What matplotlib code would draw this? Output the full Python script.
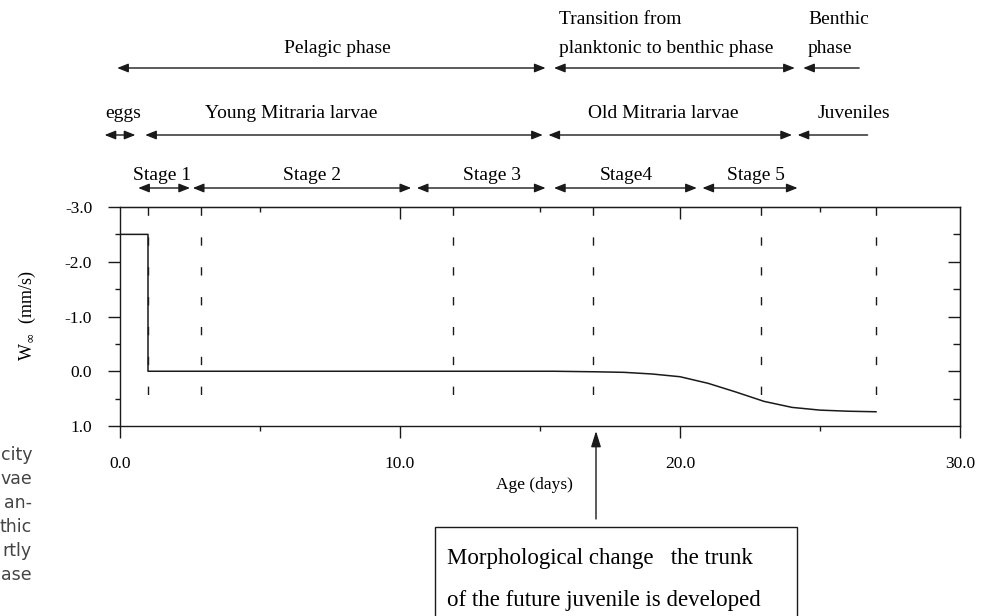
import numpy as np
import matplotlib
matplotlib.use("Agg")
import matplotlib.pyplot as plt
import matplotlib.transforms as mtransforms
from matplotlib.patches import Rectangle

# sinking velocity W_inf (mm/s) vs age (days)
age = [0, 1, 1, 15.5, 17, 18, 19, 20, 21, 22, 23, 24, 25, 26, 27]
w_inf = [-2.5, -2.5, 0, 0, 0.01, 0.02, 0.05, 0.1, 0.22, 0.38, 0.55, 0.66, 0.71, 0.73, 0.74]

# dashed stage limits (days)
stage_limits = [1.0, 2.9, 11.9, 16.9, 22.9, 27.0]

# arrow rows: (label, start day, end day, label position day)
phases = [("Pelagic phase", -0.1, 15.2, 7.75)]
transition = ("Transition from", "planktonic to benthic phase", 15.5, 24.1, 15.68)
benthic = ("Benthic", "phase", 24.4, 26.4, 24.57)
forms = [("eggs", -0.55, 0.55, 0.1), ("Young Mitraria larvae", 0.9, 15.1, 6.1),
         ("Old Mitraria larvae", 15.3, 24.0, 19.4)]
juveniles = ("Juveniles", 24.2, 26.7, 26.2)
stages = [("Stage 1", 0.65, 2.5, 1.5), ("Stage 2", 2.6, 10.4, 6.85), ("Stage 3", 10.6, 15.2, 13.3),
          ("Stage4", 15.5, 20.6, 18.1), ("Stage 5", 20.8, 24.2, 22.7)]

xticks = [0, 10, 20, 30]
xticklabels = ["0.0", "10.0", "20.0", "30.0"]
yticks = [-3, -2, -1, 0, 1]

plt.rcParams['font.family'] = ['Liberation Serif', 'DejaVu Serif']
plt.rcParams['lines.scale_dashes'] = False

W, H = 987, 616
fig = plt.figure(figsize=(W / 100, H / 100), dpi=100)
ax = fig.add_axes([120 / W, 1 - 426 / H, 840 / W, 219 / H])

def fy(py):
    # pixel row -> figure fraction
    return 1 - py / H

ink = '#1a1a1a'
ax.plot(age, w_inf, color=ink, lw=1.1)
for xl in stage_limits:
    ax.plot([xl, xl], [-3, 0.62], color=ink, lw=1.0, linestyle=(0, (6, 15.5)))

ax.set_xlim(0, 30)
ax.set_ylim(1, -3)
for s in ax.spines.values():
    s.set_color(ink)
    s.set_linewidth(1.0)

ax.set_xticks(xticks)
ax.set_xticklabels(xticklabels)
ax.set_xticks([5, 15, 25], minor=True)
ax.set_yticks(yticks)
ax.set_yticklabels(["%.1f" % v for v in yticks])
ax.set_yticks(np.arange(-2.5, 1, 1.0), minor=True)
ax.tick_params(axis='x', which='major', direction='out', length=8.5, width=1, color=ink,
               labelsize=12.5, pad=13, top=False)
ax.tick_params(axis='x', which='minor', direction='out', length=3.5, width=1, color=ink, top=False)
ax.tick_params(axis='y', which='major', direction='out', length=8.5, width=1, color=ink,
               labelsize=12.5, pad=11.5, right=False)
ax.tick_params(axis='y', which='minor', direction='out', length=3.5, width=1, color=ink, right=False)

top = ax.secondary_xaxis('top')
top.set_xticks([10, 20])
top.set_xticks([5, 15, 25], minor=True)
top.tick_params(which='major', direction='in', length=8.5, width=1, color=ink, labeltop=False)
top.tick_params(which='minor', direction='in', length=3.5, width=1, color=ink)
right = ax.secondary_yaxis('right')
right.set_yticks([-2, -1, 0])
right.set_yticks([-2.5, -1.5, -0.5, 0.5], minor=True)
right.tick_params(which='major', direction='in', length=9, width=1, color=ink, labelright=False)
right.tick_params(which='minor', direction='in', length=5, width=1, color=ink)

ax.set_xlabel("Age (days)", fontsize=12.5)
ax.xaxis.set_label_coords(0.493, -0.235)
ax.set_ylabel(r"W$_{\infty}$  (mm/s)", fontsize=13)
ax.yaxis.set_label_coords(-0.098, 0.505)

trans = mtransforms.blended_transform_factory(ax.transData, fig.transFigure)

def arrow(x0, x1, py, style='<|-|>'):
    ax.annotate('', xy=(x1, fy(py)), xytext=(x0, fy(py)), xycoords=trans, textcoords=trans,
                annotation_clip=False,
                arrowprops=dict(arrowstyle=style + ',head_length=0.55,head_width=0.22',
                                mutation_scale=12, shrinkA=0, shrinkB=0, color=ink, lw=1.0))

def label(x, py, s, ha='center'):
    ax.text(x, fy(py), s, transform=trans, ha=ha, va='baseline', fontsize=14)

# phase row
for name, a, b, c in phases:
    arrow(a, b, 68)
    label(c, 53, name)
l1, l2, a, b, c = transition
arrow(a, b, 68)
label(c, 24, l1, ha='left')
label(c, 53, l2, ha='left')
l1, l2, a, b, c = benthic
arrow(a, b, 68, style='<|-')
label(c, 24, l1, ha='left')
label(c, 53, l2, ha='left')

# life form row
for name, a, b, c in forms:
    arrow(a, b, 135)
    label(c, 118, name)
name, a, b, c = juveniles
arrow(a, b, 135, style='<|-')
label(c, 118, name)

# stage row
for name, a, b, c in stages:
    arrow(a, b, 188)
    label(c, 180, name)

# note box with arrow to the axis
ax.annotate('', xy=(17.0, fy(431)), xytext=(17.0, fy(519)), xycoords=trans, textcoords=trans,
            annotation_clip=False,
            arrowprops=dict(arrowstyle='-|>,head_length=0.8,head_width=0.25', mutation_scale=12,
                            shrinkA=0, shrinkB=0, color=ink, lw=1.0))
fig.patches.append(Rectangle((435 / W, fy(640)), (797 - 435) / W, (640 - 527) / H,
                             transform=fig.transFigure, fill=False, edgecolor=ink, lw=1.0))
fig.text(447 / W, fy(564), "Morphological change   the trunk", fontsize=16.5, va='baseline')
fig.text(447 / W, fy(606), "of the future juvenile is developed", fontsize=16.5, va='baseline')

# cut-off caption text at the left edge
caption = ["city", "vae", "an-", "thic", "rtly", "ase"]
for i, t in enumerate(caption):
    fig.text(32 / W, fy(460 + i * 24), t, ha='right', va='baseline', fontsize=12.5,
             family='DejaVu Sans', color='#444444')

fig.savefig("out.png", dpi=100)
